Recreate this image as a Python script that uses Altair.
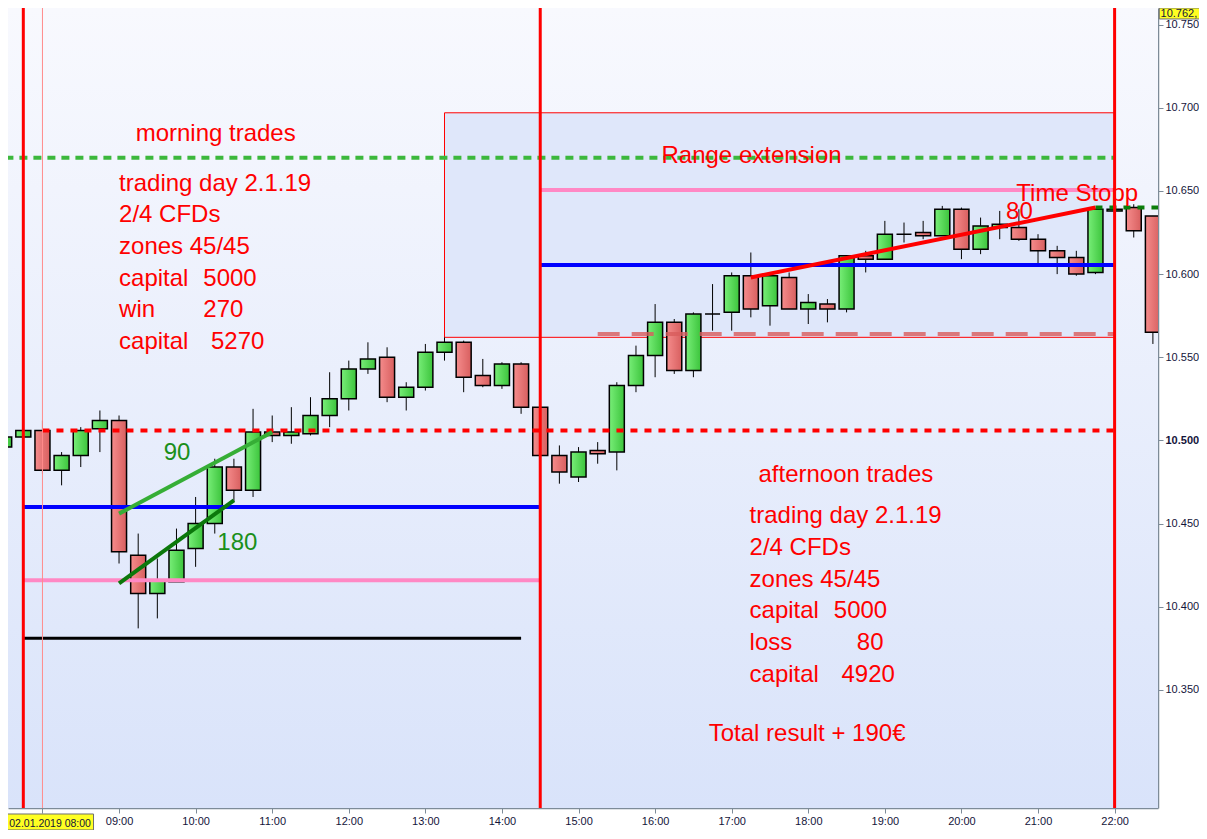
import altair as alt
import pandas as pd

# ---------------- candle data (15-minute bars, index points) ----------------
bar_time = ["07:30", "07:45", "08:00", "08:15", "08:30", "08:45",
            "09:00", "09:15", "09:30", "09:45", "10:00", "10:15", "10:30", "10:45",
            "11:00", "11:15", "11:30", "11:45", "12:00", "12:15", "12:30", "12:45",
            "13:00", "13:15", "13:30", "13:45", "14:00", "14:15", "14:30", "14:45",
            "15:00", "15:15", "15:30", "15:45", "16:00", "16:15", "16:30", "16:45",
            "17:00", "17:15", "17:30", "17:45", "18:00", "18:15", "18:30", "18:45",
            "19:00", "19:15", "19:30", "19:45", "20:00", "20:15", "20:30", "20:45",
            "21:00", "21:15", "21:30", "21:45", "22:00", "22:15", "22:30"]
bar_open = [10496, 10502, 10506, 10482, 10491, 10507,
            10512, 10431, 10408, 10415, 10435, 10450, 10484, 10470,
            10505, 10503, 10504, 10515, 10525, 10543, 10550, 10526,
            10532, 10553, 10559, 10539, 10533, 10546, 10520, 10491,
            10478, 10494, 10493, 10533, 10551, 10571, 10542, 10576,
            10577, 10599, 10581, 10598, 10579, 10582, 10579, 10611,
            10609, 10624, 10625, 10623, 10639, 10615, 10628, 10628,
            10621, 10614, 10610, 10601, 10638, 10640, 10635]
bar_high = [10505, 10507, 10512, 10493, 10508, 10518,
            10515, 10444, 10429, 10447, 10466, 10489, 10489, 10519,
            10515, 10520, 10526, 10541, 10548, 10559, 10556, 10535,
            10558, 10562, 10560, 10549, 10547, 10547, 10520, 10497,
            10496, 10499, 10535, 10557, 10582, 10573, 10577, 10594,
            10601, 10613, 10601, 10601, 10588, 10585, 10611, 10614,
            10632, 10631, 10632, 10641, 10640, 10634, 10638, 10639,
            10624, 10617, 10614, 10639, 10641, 10642, 10635]
bar_low = [10494, 10502, 10480, 10473, 10484, 10493,
           10426, 10387, 10393, 10415, 10424, 10444, 10463, 10466,
           10499, 10498, 10503, 10508, 10518, 10540, 10523, 10518,
           10530, 10548, 10529, 10532, 10531, 10516, 10491, 10474,
           10475, 10486, 10482, 10529, 10538, 10540, 10538, 10566,
           10566, 10574, 10569, 10579, 10570, 10571, 10577, 10601,
           10609, 10619, 10621, 10623, 10609, 10612, 10621, 10620,
           10606, 10600, 10599, 10600, 10638, 10622, 10558]
bar_close = [10502, 10506, 10482, 10491, 10506, 10512,
             10433, 10408, 10416, 10434, 10450, 10484, 10470, 10505,
             10503, 10505, 10515, 10525, 10543, 10549, 10526, 10532,
             10553, 10559, 10538, 10533, 10546, 10520, 10491, 10481,
             10493, 10492, 10533, 10551, 10571, 10542, 10576, 10576,
             10599, 10579, 10599, 10579, 10583, 10579, 10611, 10609,
             10624, 10624, 10623, 10639, 10615, 10629, 10630, 10621,
             10614, 10610, 10600, 10639, 10639, 10626, 10565]

# ---------------- horizontal levels ----------------
level_name = ["green_dash", "red_dot", "blue_am", "pink_am", "black_am",
              "pink_pm", "blue_pm", "rose_dash", "dkgreen_dash", "top_line"]
level_from = ["07:20", "08:00", "07:45", "07:45", "07:45",
              "14:30", "14:30", "15:15", "21:45", "07:20"]
level_to = ["22:00", "22:00", "14:30", "14:30", "14:15",
            "22:00", "22:00", "22:00", "22:35", "22:40"]
level_price = [10670, 10506, 10460, 10416, 10381,
               10650.5, 10605.5, 10564, 10640, 10762]

# ---------------- vertical session lines ----------------
session_time = ["07:45", "14:30", "22:00"]
marker_time = ["08:00"]

# ---------------- trend lines ----------------
trend_name = ["t90", "t180", "t80"]
trend_t1 = ["09:00", "09:00", "17:15"]
trend_p1 = [10456, 10414, 10598]
trend_t2 = ["11:00", "10:30", "21:45"]
trend_p2 = [10505, 10464, 10640]

# ---------------- range extension box ----------------
box_t = ["13:15", "22:00"]
box_p = [10562, 10697]

# ---------------- annotations ----------------
note_time = ["09:13", "09:00", "09:00", "09:00", "09:00", "10:06", "09:00", "10:06", "09:00", "10:12",
             "17:21", "17:14", "17:14", "17:14", "17:14", "18:20", "17:14", "18:38", "17:14", "18:26",
             "16:42", "16:05", "20:43", "20:35", "09:35", "10:17"]
note_price = [10680, 10650, 10631.5, 10612, 10593, 10593, 10574, 10574, 10555, 10555,
              10475, 10450.5, 10431, 10412, 10393, 10393, 10374, 10374, 10355, 10355,
              10319, 10667, 10644, 10633, 10488, 10434]
note_text = ["morning trades", "trading day 2.1.19", "2/4 CFDs", "zones 45/45",
             "capital", "5000", "win", "270", "capital", "5270",
             "afternoon trades", "trading day 2.1.19", "2/4 CFDs", "zones 45/45",
             "capital", "5000", "loss", "80", "capital", "4920",
             "Total result + 190€", "Range extension", "Time Stopp", "80", "90", "180"]
note_color = ["#ff0000"] * 24 + ["#1a8f1a", "#1a8f1a"]

# ---------------- axis tags ----------------
date_tag_t = ["07:27", "08:40"]
date_tag_p = [10265.8, 10275.4]
date_tag_text = "Mi 02.01.2019 08:00"
date_tag_anchor = ["08:38", 10267.5]
price_tag_t = ["22:35", "23:15"]
price_tag_p = [10753.4, 10760]
price_tag_text = "10.762,"
price_tag_anchor = ["22:36", 10754.3]

x_dom = ["07:33", "22:34"]
y_dom = [10279, 10760]
y_ticks = [10350, 10400, 10450, 10500, 10550, 10600, 10650, 10700, 10750]
x_ticks = list(range(8, 23))


def to_h(s):
    h, m = s.split(":")
    return int(h) + float(m) / 60.0


AX_FONT = "Liberation Sans"
XS = alt.Scale(domain=[to_h(x_dom[0]), to_h(x_dom[1])], nice=False, zero=False, padding=0)
YS = alt.Scale(domain=y_dom, nice=False, zero=False, padding=0)
XA = alt.Axis(values=x_ticks, title=None, grid=False, orient="bottom",
              labelExpr="datum.value == 8 ? '' : (datum.value < 10 ? '0' : '') + datum.value + ':00'",
              labelFont=AX_FONT, labelFontSize=11, labelColor="#14143a",
              tickColor="#7d8b98", domainColor="#7d8b98", tickSize=5, domainWidth=1.5,
              labelPadding=2, labelFlush=False, labelOverlap=False)
YA = alt.Axis(values=y_ticks, title=None, grid=False, orient="right",
              labelExpr="replace(format(datum.value, ','), ',', '.')",
              labelFontWeight={"condition": {"test": "datum.value == 10500", "value": "bold"},
                               "value": "normal"},
              labelFont=AX_FONT, labelFontSize=11, labelColor="#14143a",
              tickColor="#7d8b98", domainColor="#7d8b98", tickSize=5, domainWidth=1.5,
              labelPadding=2, labelFlush=False, labelOverlap=False)


def X(f):
    return alt.X(f, type="quantitative", scale=XS, axis=XA)


def Y(f):
    return alt.Y(f, type="quantitative", scale=YS, axis=YA)


# ---------------- tables ----------------
bars = pd.DataFrame({"t": [to_h(s) for s in bar_time], "o": bar_open, "h": bar_high,
                     "l": bar_low, "c": bar_close})
ups = bars[bars.c >= bars.o]
downs = bars[bars.c < bars.o]

levels = pd.DataFrame({"name": level_name, "t1": [to_h(s) for s in level_from],
                       "t2": [to_h(s) for s in level_to], "p": level_price})
trends = pd.DataFrame({"name": trend_name, "t1": [to_h(s) for s in trend_t1], "p1": trend_p1,
                       "t2": [to_h(s) for s in trend_t2], "p2": trend_p2})
notes = pd.DataFrame({"t": [to_h(s) for s in note_time], "p": note_price,
                      "text": note_text, "color": note_color})
bg = pd.DataFrame({"t1": [to_h(x_dom[0])], "t2": [to_h(x_dom[1])], "p1": [y_dom[0]], "p2": [y_dom[1]]})
box = pd.DataFrame({"t1": [to_h(box_t[0])], "t2": [to_h(box_t[1])], "p1": [box_p[0]], "p2": [box_p[1]]})

# ---------------- layers ----------------
bg_grad = alt.Gradient(gradient="linear", x1=0, x2=0, y1=0, y2=1,
                       stops=[alt.GradientStop(color="#f8f9fe", offset=0),
                              alt.GradientStop(color="#d9e3fa", offset=1)])
background = alt.Chart(bg).mark_rect(color=bg_grad).encode(
    x=X("t1"), x2="t2", y=Y("p1"), y2="p2")

range_box = alt.Chart(box).mark_rect(fill="#dfe7fa", stroke="#ff0000", strokeWidth=1).encode(
    x=X("t1"), x2="t2", y=Y("p1"), y2="p2")

wicks = alt.Chart(bars).mark_rule(color="black", strokeWidth=1, clip=True).encode(
    x=X("t"), y=Y("l"), y2="h")

green_grad = alt.Gradient(gradient="linear", x1=0, x2=1, y1=0, y2=0,
                          stops=[alt.GradientStop(color="#78ee78", offset=0),
                                 alt.GradientStop(color="#3cc43c", offset=1)])
red_grad = alt.Gradient(gradient="linear", x1=0, x2=1, y1=0, y2=0,
                        stops=[alt.GradientStop(color="#f58c8c", offset=0),
                               alt.GradientStop(color="#d85f5f", offset=1)])
up_bodies = alt.Chart(ups).mark_bar(color=green_grad, stroke="black", strokeWidth=1.5,
                                    size=15, clip=True).encode(x=X("t"), y=Y("o"), y2="c")
down_bodies = alt.Chart(downs).mark_bar(color=red_grad, stroke="black", strokeWidth=1.5,
                                        size=15, clip=True).encode(x=X("t"), y=Y("o"), y2="c")

level_style = {
    "top_line": dict(color="#ff9a9a", strokeWidth=1),
    "green_dash": dict(color="#3cb83c", strokeWidth=4, strokeDash=[8, 6]),
    "red_dot": dict(color="#ff0000", strokeWidth=4, strokeDash=[7, 7]),
    "blue_am": dict(color="#0000ff", strokeWidth=4),
    "pink_am": dict(color="#ff88c4", strokeWidth=4),
    "black_am": dict(color="#000000", strokeWidth=3),
    "pink_pm": dict(color="#ff88c4", strokeWidth=4),
    "blue_pm": dict(color="#0000ff", strokeWidth=4),
    "rose_dash": dict(color="#d85c5c", strokeWidth=4, strokeDash=[22, 12], opacity=0.8),
    "dkgreen_dash": dict(color="#0a7d0a", strokeWidth=4, strokeDash=[7, 7]),
}
level_layers = []
for name in level_name:
    level_layers.append(
        alt.Chart(levels[levels.name == name]).mark_rule(clip=True, strokeCap="butt",
                                                         **level_style[name]).encode(
            x=X("t1"), x2="t2", y=Y("p")))

session = pd.DataFrame({"t": [to_h(s) for s in session_time]})
marker = pd.DataFrame({"t": [to_h(s) for s in marker_time]})
marker_layer = alt.Chart(marker).mark_rule(color="#ff8c8c", strokeWidth=1, clip=True).encode(x=X("t"))
session_layer = alt.Chart(session).mark_rule(color="#ff0000", strokeWidth=3, clip=True).encode(x=X("t"))

trend_style = {
    "t90": dict(color="#36ae36", strokeWidth=4),
    "t180": dict(color="#0b780b", strokeWidth=4),
    "t80": dict(color="#ff0000", strokeWidth=4),
}
trend_layers = []
for name in trend_name:
    trend_layers.append(
        alt.Chart(trends[trends.name == name]).mark_rule(strokeCap="butt", **trend_style[name]).encode(
            x=X("t1"), x2="t2", y=Y("p1"), y2="p2"))

note_layer = alt.Chart(notes).mark_text(font="Liberation Sans", fontSize=24, align="left",
                                        baseline="alphabetic").encode(
    x=X("t"), y=Y("p"), text="text:N", color=alt.Color("color:N", scale=None))

# axis tags
dtag = pd.DataFrame({"t1": [to_h(date_tag_t[0])], "t2": [to_h(date_tag_t[1])],
                     "p1": [date_tag_p[0]], "p2": [date_tag_p[1]]})
dtag_txt = pd.DataFrame({"t": [to_h(date_tag_anchor[0])], "p": [date_tag_anchor[1]], "text": [date_tag_text]})
ptag = pd.DataFrame({"t1": [to_h(price_tag_t[0])], "t2": [to_h(price_tag_t[1])],
                     "p1": [price_tag_p[0]], "p2": [price_tag_p[1]]})
ptag_txt = pd.DataFrame({"t": [to_h(price_tag_anchor[0])], "p": [price_tag_anchor[1]], "text": [price_tag_text]})

dtag_rect = alt.Chart(dtag).mark_rect(fill="#ffff22", stroke="#6e6e6e", strokeWidth=1).encode(
    x=X("t1"), x2="t2", y=Y("p1"), y2="p2")
dtag_text = alt.Chart(dtag_txt).mark_text(font=AX_FONT, fontSize=10.5, align="right",
                                          baseline="alphabetic", color="#14143a").encode(
    x=X("t"), y=Y("p"), text="text:N")
ptag_rect = alt.Chart(ptag).mark_rect(fill="#ffff22", stroke="#6e6e6e", strokeWidth=1).encode(
    x=X("t1"), x2="t2", y=Y("p1"), y2="p2")
ptag_text = alt.Chart(ptag_txt).mark_text(font=AX_FONT, fontSize=11, align="left",
                                          baseline="alphabetic", color="#14143a").encode(
    x=X("t"), y=Y("p"), text="text:N")

chart = alt.layer(
    background, range_box, wicks, up_bodies, down_bodies,
    *level_layers, marker_layer, session_layer, *trend_layers, note_layer,
    dtag_rect, dtag_text, ptag_rect, ptag_text
).properties(
    width=1150, height=800,
    padding={"left": 0, "top": 0, "right": 41, "bottom": 22},
    autosize=alt.AutoSizeParams(type="none"),
    background="white",
).configure_view(stroke=None)

chart.save("out.html", embed_options={"renderer": "svg", "actions": False})
